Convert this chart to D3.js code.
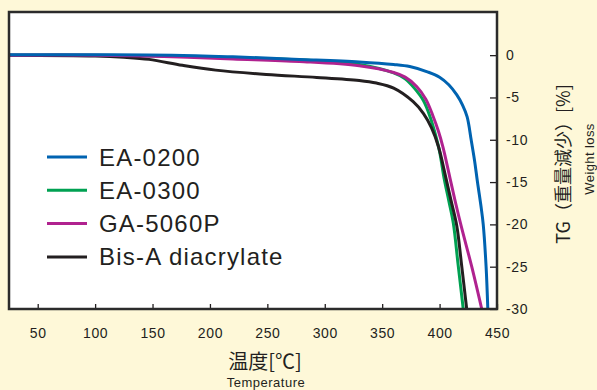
<!DOCTYPE html>
<html>
<head>
<meta charset="utf-8">
<script src="https://cdn.jsdelivr.net/npm/d3@7"></script>
<style>
  html, body { margin: 0; padding: 0; background: #fef8d8; }
  svg { display: block; }
  text { fill: #231f20; }
</style>
</head>
<body>
<div id="chart"></div>
<script>
// x ticks / y ticks
const xTicks = [50, 100, 150, 200, 250, 300, 350, 400, 450];
const yTicks = [0, -5, -10, -15, -20, -25, -30];

const seriesNames = ['EA-0200', 'EA-0300', 'GA-5060P', 'Bis-A diacrylate'];
const seriesColors = ['#0063b1', '#00a152', '#b0228f', '#231f20'];

// temperature [C] and weight loss [%]
const ea0200T = [25, 100, 167, 220, 278, 330, 360, 374, 390, 400, 408, 415, 420, 424, 427.5, 430.5, 433, 436, 438, 440.5, 442];
const ea0200V = [0.05, 0.05, 0, -0.2, -0.5, -0.8, -1.1, -1.35, -2.0, -2.6, -3.5, -4.7, -5.9, -7.3, -10, -12.5, -15, -17.8, -20, -25, -30];

const ea0300T = [25, 100, 160, 220, 278, 330, 360, 370, 378, 386, 392, 396, 400, 404, 408, 412, 416, 420.6];
const ea0300V = [0, 0, -0.1, -0.3, -0.55, -1.1, -2.1, -2.8, -3.9, -5.4, -7.4, -9.2, -11.4, -14.6, -17.2, -19.9, -24.6, -30];

const ga5060pT = [25, 100, 160, 220, 278, 330, 360, 370, 380, 388, 394, 399, 403, 409, 414, 419, 428, 436.7];
const ga5060pV = [0, 0, -0.15, -0.45, -0.75, -1.25, -2.05, -2.6, -3.7, -5.2, -7.1, -9, -10.9, -14.5, -17.5, -20.3, -25, -30];

const bisAT = [25, 100, 125, 147, 176, 205, 249, 293, 330, 345, 360, 377, 386, 393, 399, 405, 410, 415, 419, 423.6];
const bisAV = [0, -0.1, -0.25, -0.5, -1.2, -1.77, -2.28, -2.63, -3.0, -3.3, -3.9, -5.5, -6.9, -8.6, -10.8, -14.2, -17.2, -20.2, -24.6, -30];

const W = 597, H = 390;
const plot = { left: 9, top: 12, right: 497, bottom: 309 };

const svg = d3.select('#chart').append('svg')
  .attr('width', W)
  .attr('height', H);

svg.append('rect')
  .attr('width', W).attr('height', H)
  .attr('fill', '#fef8d8');

const x = d3.scaleLinear().domain([25, 450]).range([plot.left, plot.right]);
const y = d3.scaleLinear().domain([-30, 5.1]).range([plot.bottom, plot.top]);

// plot area
svg.append('rect')
  .attr('x', plot.left).attr('y', plot.top)
  .attr('width', plot.right - plot.left)
  .attr('height', plot.bottom - plot.top)
  .attr('fill', '#ffffff');

svg.append('clipPath').attr('id', 'clip')
  .append('rect')
  .attr('x', plot.left).attr('y', plot.top)
  .attr('width', plot.right - plot.left)
  .attr('height', plot.bottom - plot.top);

const numFont = '"Liberation Sans", Arial, sans-serif';
const jpFont = '"Noto Sans CJK JP", "Liberation Sans", sans-serif';

// X axis
const xAxis = svg.append('g')
  .attr('transform', 'translate(0,' + plot.bottom + ')')
  .call(d3.axisBottom(x).tickValues(xTicks).tickSize(-5).tickPadding(19).tickFormat(d => String(d)));
xAxis.select('.domain').remove();
xAxis.selectAll('line').attr('stroke', '#231f20').attr('stroke-width', 1.3);
xAxis.selectAll('text')
  .style('font-family', numFont)
  .style('font-size', '14px')
  .style('letter-spacing', '0.6px')
  .attr('fill', '#231f20');

// Y axis (right side)
const yAxis = svg.append('g')
  .attr('transform', 'translate(' + plot.right + ',0)')
  .call(d3.axisRight(y).tickValues(yTicks).tickSize(-7).tickPadding(9).tickFormat(d => String(d)));
yAxis.select('.domain').remove();
yAxis.selectAll('line').attr('stroke', '#231f20').attr('stroke-width', 1.3);
yAxis.selectAll('text')
  .style('font-family', numFont)
  .style('font-size', '14px')
  .style('letter-spacing', '0.6px')
  .attr('fill', '#231f20');

// Lines
const line = d3.line()
  .x(d => x(d[0]))
  .y(d => y(d[1]))
  .curve(d3.curveCatmullRom.alpha(0.5));

const series = [
  { name: seriesNames[1], color: seriesColors[1], pts: d3.zip(ea0300T, ea0300V) },
  { name: seriesNames[3], color: seriesColors[3], pts: d3.zip(bisAT, bisAV) },
  { name: seriesNames[2], color: seriesColors[2], pts: d3.zip(ga5060pT, ga5060pV) },
  { name: seriesNames[0], color: seriesColors[0], pts: d3.zip(ea0200T, ea0200V) }
];

const lines = svg.append('g').attr('clip-path', 'url(#clip)');
series.forEach(s => {
  lines.append('path')
    .datum(s.pts)
    .attr('fill', 'none')
    .attr('stroke', s.color)
    .attr('stroke-width', 3)
    .attr('stroke-linejoin', 'round')
    .attr('d', line);
});

// Frame
svg.append('rect')
  .attr('x', plot.left).attr('y', plot.top)
  .attr('width', plot.right - plot.left)
  .attr('height', plot.bottom - plot.top)
  .attr('fill', 'none')
  .attr('stroke', '#2b2b2b')
  .attr('stroke-width', 2.5);

// Legend
const legend = svg.append('g');
seriesNames.forEach((name, i) => {
  const ly = 157 + i * 33.3;
  legend.append('line')
    .attr('x1', 47).attr('x2', 87)
    .attr('y1', ly).attr('y2', ly)
    .attr('stroke', seriesColors[i])
    .attr('stroke-width', 3);
  legend.append('text')
    .attr('x', 99).attr('y', ly + 8.5)
    .style('font-family', numFont)
    .style('font-size', '24px')
    .style('letter-spacing', '1.2px')
    .text(name);
});

// X axis title
svg.append('text')
  .attr('x', 265).attr('y', 369)
  .attr('text-anchor', 'middle')
  .style('font-family', jpFont)
  .style('font-size', '20px')
  .text('温度[℃]');

svg.append('text')
  .attr('x', 266).attr('y', 387)
  .attr('text-anchor', 'middle')
  .style('font-family', numFont)
  .style('font-size', '13px')
  .style('letter-spacing', '0.5px')
  .text('Temperature');

// Y axis title (right)
svg.append('text')
  .attr('transform', 'translate(570,164) rotate(-90)')
  .attr('text-anchor', 'middle')
  .style('font-family', jpFont)
  .style('font-size', '18px')
  .text('TG（重量減少）[%]');

svg.append('text')
  .attr('transform', 'translate(594,159) rotate(-90)')
  .attr('text-anchor', 'middle')
  .style('font-family', numFont)
  .style('font-size', '13px')
  .style('letter-spacing', '0.4px')
  .text('Weight loss');
</script>
</body>
</html>
